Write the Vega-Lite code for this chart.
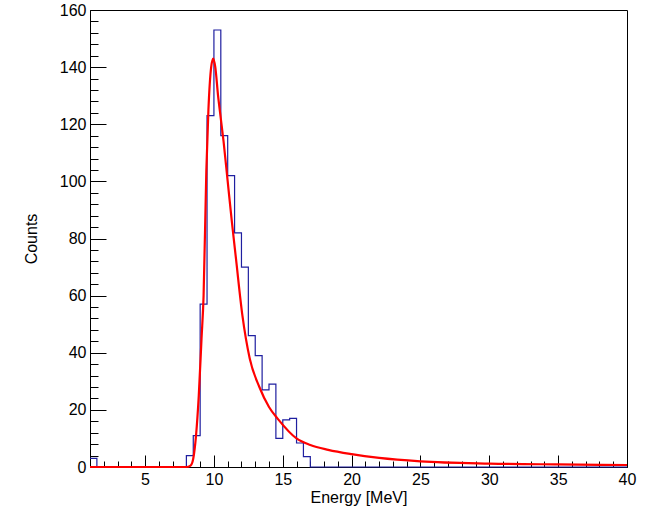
{
  "$schema": "https://vega.github.io/schema/vega-lite/v6.json",
  "autosize": "none",
  "width": 537,
  "height": 457,
  "padding": {"left": 90, "top": 10, "right": 26, "bottom": 45},
  "background": "white",
  "config": {
    "view": {"stroke": "black", "strokeWidth": 1},
    "font": "Liberation Sans",
    "axis": {"labelFont": "Liberation Sans", "titleFont": "Liberation Sans", "labelFontSize": 16, "titleFontSize": 16, "titleFontWeight": "normal", "labelColor": "black", "titleColor": "black", "domainColor": "black", "tickColor": "black", "grid": false, "labelOverlap": false, "labelBound": false, "labelFlush": false}
  },
  "datasets": {
    "hist": [
      {"e": 1, "n": 3}, {"e": 1.5, "n": 0}, {"e": 8, "n": 4}, {"e": 8.5, "n": 11},
      {"e": 9, "n": 57}, {"e": 9.5, "n": 123}, {"e": 10, "n": 153}, {"e": 10.5, "n": 116},
      {"e": 11, "n": 102}, {"e": 11.5, "n": 82}, {"e": 12, "n": 70}, {"e": 12.5, "n": 46},
      {"e": 13, "n": 39}, {"e": 13.5, "n": 27}, {"e": 14, "n": 29}, {"e": 14.5, "n": 10},
      {"e": 15, "n": 16.5}, {"e": 15.5, "n": 17}, {"e": 16, "n": 8.4}, {"e": 16.5, "n": 3.6},
      {"e": 17, "n": 0}, {"e": 40, "n": 0}
    ],
    "fit": [
      {"e": 1, "f": 0}, {"e": 8.0, "f": 0}, {"e": 8.3, "f": 0.5}, {"e": 8.5, "f": 3},
      {"e": 8.7, "f": 11}, {"e": 8.9, "f": 25}, {"e": 9.1, "f": 45}, {"e": 9.25, "f": 60},
      {"e": 9.45, "f": 104}, {"e": 9.6, "f": 125}, {"e": 9.8, "f": 140}, {"e": 9.95, "f": 143},
      {"e": 10.1, "f": 140}, {"e": 10.3, "f": 130}, {"e": 10.5, "f": 122}, {"e": 10.7, "f": 114},
      {"e": 11.0, "f": 100}, {"e": 11.3, "f": 86}, {"e": 11.6, "f": 73}, {"e": 12.07, "f": 53},
      {"e": 12.6, "f": 38}, {"e": 13.3, "f": 28}, {"e": 14.0, "f": 21}, {"e": 14.7, "f": 16.5},
      {"e": 16, "f": 10}, {"e": 17, "f": 7.7}, {"e": 18.3, "f": 6}, {"e": 20, "f": 4.5},
      {"e": 22, "f": 3.2}, {"e": 25, "f": 2}, {"e": 30, "f": 1.2}, {"e": 35, "f": 0.9},
      {"e": 40, "f": 0.7}
    ]
  },
  "resolve": {"axis": {"x": "independent", "y": "independent"}},
  "layer": [
    {
      "data": {"name": "hist"},
      "mark": {"type": "line", "interpolate": "step-after", "color": "#1f1fa0", "strokeWidth": 1.2},
      "encoding": {
        "x": {"field": "e", "type": "quantitative", "scale": {"domain": [1, 40], "nice": false, "zero": false},
          "axis": {"title": "Energy [MeV]", "orient": "bottom", "offset": 0, "values": [5, 10, 15, 20, 25, 30, 35, 40], "tickSize": -12, "labelPadding": 16, "titlePadding": 2}},
        "y": {"field": "n", "type": "quantitative", "scale": {"domain": [0, 160], "nice": false},
          "axis": {"title": "Counts", "orient": "left", "offset": 0, "values": [0, 20, 40, 60, 80, 100, 120, 140, 160], "tickSize": -16, "labelPadding": 20, "titlePadding": 20}}
      }
    },
    {
      "data": {"name": "fit"},
      "mark": {"type": "line", "interpolate": "monotone", "color": "#ff0000", "strokeWidth": 2.2},
      "encoding": {
        "x": {"field": "e", "type": "quantitative", "scale": {"domain": [1, 40], "nice": false, "zero": false},
          "axis": {"title": null, "orient": "bottom", "offset": 0, "labels": false, "domain": false, "values": [2,3,4,6,7,8,9,11,12,13,14,16,17,18,19,21,22,23,24,26,27,28,29,31,32,33,34,36,37,38,39], "tickSize": -6}},
        "y": {"field": "f", "type": "quantitative", "scale": {"domain": [0, 160], "nice": false},
          "axis": {"title": null, "orient": "left", "offset": 0, "labels": false, "domain": false, "values": [4,8,12,16,24,28,32,36,44,48,52,56,64,68,72,76,84,88,92,96,104,108,112,116,124,128,132,136,144,148,152,156], "tickSize": -8}}
      }
    }
  ]
}
